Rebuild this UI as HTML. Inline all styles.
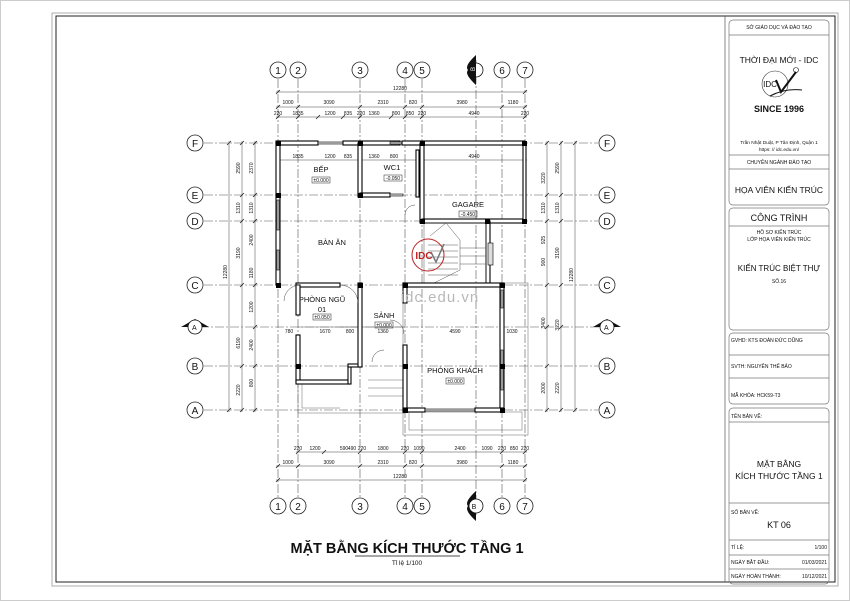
<!DOCTYPE html>
<html><head><meta charset="utf-8"><style>
html,body{margin:0;padding:0;background:#fff}
svg{display:block}
text{font-family:"Liberation Sans",Arial,sans-serif;fill:#111}
.d{font-size:5px;fill:#333}
.g{stroke:#555;stroke-width:.6;stroke-dasharray:9 2 2 2;fill:none}
.dl{stroke:#444;stroke-width:.5;fill:none}
.w{fill:#fff;stroke:#000;stroke-width:1.1}
.wb{fill:#000}
.win{fill:#ddd;stroke:#000;stroke-width:.6}
.t{stroke:#666;stroke-width:.5;fill:none}
.c{fill:#fff;stroke:#222;stroke-width:.8}
</style></head><body>
<svg width="850" height="601" viewBox="0 0 850 601" xmlns="http://www.w3.org/2000/svg">
<rect x="0.5" y="0.5" width="849" height="600" fill="#fff" stroke="#ccc"/>
<rect x="52" y="13" width="786" height="573" fill="none" stroke="#999" stroke-width=".8"/>
<rect x="56" y="16" width="779" height="566" fill="none" stroke="#222" stroke-width="1"/>
<line x1="725" y1="16" x2="725" y2="582" stroke="#555" stroke-width=".7"/>

<g fill="none" stroke="#777" stroke-width=".7">
<rect x="729" y="20" width="100" height="185" rx="4"/>
<rect x="729" y="208" width="100" height="122" rx="4"/>
<rect x="729" y="333" width="100" height="71" rx="4"/>
<rect x="729" y="408" width="100" height="176" rx="4"/>
<line x1="729" y1="35" x2="829" y2="35"/>
<line x1="729" y1="155" x2="829" y2="155"/>
<line x1="729" y1="169" x2="829" y2="169"/>
<line x1="729" y1="226" x2="829" y2="226"/>
<line x1="729" y1="355" x2="829" y2="355"/>
<line x1="729" y1="378" x2="829" y2="378"/>
<line x1="729" y1="422" x2="829" y2="422"/>
<line x1="729" y1="503" x2="829" y2="503"/>
<line x1="729" y1="540" x2="829" y2="540"/>
<line x1="729" y1="555" x2="829" y2="555"/>
<line x1="729" y1="569" x2="829" y2="569"/>
</g>
<g text-anchor="middle">
<text x="779" y="29" font-size="5">SỞ GIÁO DỤC VÀ ĐÀO TẠO</text>
<text x="779" y="63" font-size="8.5">THỜI ĐẠI MỚI - IDC</text>
<circle cx="775" cy="84" r="13" fill="none" stroke="#333" stroke-width=".6"/>
<text x="770" y="87" font-size="8" font-family="Liberation Serif">IDC</text>
<path d="M776 80 L781 92 L796 72" fill="none" stroke="#111" stroke-width="2"/>
<path d="M770 96 Q785 88 802 90" fill="none" stroke="#111" stroke-width="1"/>
<circle cx="796" cy="70" r="2.5" fill="none" stroke="#111" stroke-width=".6"/>
<text x="779" y="112" font-size="9" font-weight="bold">SINCE 1996</text>
<text x="779" y="144" font-size="4.8">Trần Nhật Duật, P Tân Định, Quận 1</text>
<text x="779" y="151" font-size="4.8">https: // idc.edu.vn/</text>
<text x="779" y="164" font-size="5">CHUYÊN NGÀNH ĐÀO TẠO</text>
<text x="779" y="193" font-size="8.5">HỌA VIÊN KIẾN TRÚC</text>
<text x="779" y="221" font-size="9">CÔNG TRÌNH</text>
<text x="779" y="234" font-size="5">HỒ SƠ KIẾN TRÚC</text>
<text x="779" y="241" font-size="5">LỚP HỌA VIÊN KIẾN TRÚC</text>
<text x="779" y="271" font-size="8">KIẾN TRÚC BIỆT THỰ</text>
<text x="779" y="283" font-size="5">SỐ.16</text>
<text x="779" y="467" font-size="8.5">MẶT BẰNG</text>
<text x="779" y="479" font-size="8.5">KÍCH THƯỚC TẦNG 1</text>
<text x="779" y="528" font-size="9">KT 06</text>
</g>
<g font-size="5">
<text x="731" y="342">GVHD:  KTS ĐOÀN ĐỨC DŨNG</text>
<text x="731" y="368">SVTH:  NGUYỄN THẾ BẢO</text>
<text x="731" y="397">MÃ KHÓA:  HCK59-T3</text>
<text x="731" y="418">TÊN BẢN VẼ:</text>
<text x="731" y="514">SỐ BẢN VẼ:</text>
<text x="731" y="549">TỈ LỆ:</text>
<text x="731" y="564">NGÀY BẮT ĐẦU:</text>
<text x="731" y="578">NGÀY HOÀN THÀNH:</text>
<text x="827" y="549" text-anchor="end">1/100</text>
<text x="827" y="564" text-anchor="end">01/03/2021</text>
<text x="827" y="578" text-anchor="end">10/12/2021</text>
</g>

<g class="g">
<line x1="278" y1="79" x2="278" y2="497"/><line x1="298" y1="79" x2="298" y2="497"/>
<line x1="360" y1="79" x2="360" y2="497"/><line x1="405" y1="79" x2="405" y2="497"/>
<line x1="422" y1="79" x2="422" y2="497"/><line x1="502" y1="79" x2="502" y2="497"/>
<line x1="525" y1="79" x2="525" y2="497"/><line x1="476" y1="60" x2="476" y2="515"/>
<line x1="204" y1="143" x2="598" y2="143"/><line x1="204" y1="195" x2="598" y2="195"/>
<line x1="204" y1="221" x2="598" y2="221"/><line x1="204" y1="285" x2="598" y2="285"/>
<line x1="204" y1="366" x2="598" y2="366"/><line x1="204" y1="410" x2="598" y2="410"/>
<line x1="200" y1="327" x2="600" y2="327"/>
</g>

<g>
<circle class="c" cx="278" cy="70" r="8"/><circle class="c" cx="298" cy="70" r="8"/><circle class="c" cx="360" cy="70" r="8"/><circle class="c" cx="405" cy="70" r="8"/><circle class="c" cx="422" cy="70" r="8"/><circle class="c" cx="502" cy="70" r="8"/><circle class="c" cx="525" cy="70" r="8"/>
<circle class="c" cx="278" cy="506" r="8"/><circle class="c" cx="298" cy="506" r="8"/><circle class="c" cx="360" cy="506" r="8"/><circle class="c" cx="405" cy="506" r="8"/><circle class="c" cx="422" cy="506" r="8"/><circle class="c" cx="502" cy="506" r="8"/><circle class="c" cx="525" cy="506" r="8"/>
<circle class="c" cx="195" cy="143" r="8"/><circle class="c" cx="195" cy="195" r="8"/><circle class="c" cx="195" cy="221" r="8"/><circle class="c" cx="195" cy="285" r="8"/><circle class="c" cx="195" cy="366" r="8"/><circle class="c" cx="195" cy="410" r="8"/>
<circle class="c" cx="607" cy="143" r="8"/><circle class="c" cx="607" cy="195" r="8"/><circle class="c" cx="607" cy="221" r="8"/><circle class="c" cx="607" cy="285" r="8"/><circle class="c" cx="607" cy="366" r="8"/><circle class="c" cx="607" cy="410" r="8"/>
</g>
<g font-size="10" text-anchor="middle">
<text x="278" y="74">1</text><text x="298" y="74">2</text><text x="360" y="74">3</text><text x="405" y="74">4</text><text x="422" y="74">5</text><text x="502" y="74">6</text><text x="525" y="74">7</text>
<text x="278" y="510">1</text><text x="298" y="510">2</text><text x="360" y="510">3</text><text x="405" y="510">4</text><text x="422" y="510">5</text><text x="502" y="510">6</text><text x="525" y="510">7</text>
<text x="195" y="147">F</text><text x="195" y="199">E</text><text x="195" y="225">D</text><text x="195" y="289">C</text><text x="195" y="370">B</text><text x="195" y="414">A</text>
<text x="607" y="147">F</text><text x="607" y="199">E</text><text x="607" y="225">D</text><text x="607" y="289">C</text><text x="607" y="370">B</text><text x="607" y="414">A</text>
</g>
<g>
<path d="M476 55 Q464 66 468 70 Q464 74 476 85 Z" fill="#111"/><circle cx="476" cy="70" r="7" fill="#fff" stroke="#111" stroke-width=".8"/><path d="M476 63 A7 7 0 0 0 476 77 Z" fill="#111"/><text x="474" y="72" font-size="6" style="fill:#fff" text-anchor="middle" transform="rotate(-90 473 70)">B</text>
<path d="M476 491 Q464 502 468 506 Q464 510 476 521 Z" fill="#111"/><circle cx="476" cy="506" r="7" fill="#fff" stroke="#111" stroke-width=".8"/><text x="474" y="509" font-size="7" text-anchor="middle">B</text>
<path d="M181 327 L195 319 L209 327 Z" fill="#111"/><circle cx="195" cy="327" r="7" fill="#fff" stroke="#111" stroke-width=".8"/><text x="192" y="330" font-size="7">A</text>
<path d="M593 327 L607 319 L621 327 Z" fill="#111"/><circle cx="607" cy="327" r="7" fill="#fff" stroke="#111" stroke-width=".8"/><text x="604" y="330" font-size="7">A</text>
</g>

<g class="dl">
<line x1="276" y1="92" x2="527" y2="92"/><line x1="276" y1="107" x2="527" y2="107"/><line x1="276" y1="117" x2="527" y2="117"/>
<line x1="276" y1="160" x2="527" y2="160"/>
<line x1="296" y1="452" x2="527" y2="452"/><line x1="276" y1="466" x2="527" y2="466"/><line x1="276" y1="480" x2="527" y2="480"/>
<line x1="229" y1="141" x2="229" y2="412"/><line x1="242" y1="141" x2="242" y2="412"/><line x1="255" y1="141" x2="255" y2="412"/>
<line x1="547" y1="141" x2="547" y2="412"/><line x1="561" y1="141" x2="561" y2="412"/><line x1="575" y1="141" x2="575" y2="412"/>
</g>
<g stroke="#222" stroke-width=".8">
<path d="M276 94l4-4M523 94l4-4M276 109l4-4M296 109l4-4M358 109l4-4M403 109l4-4M420 109l4-4M500 109l4-4M523 109l4-4M276 119l4-4M296 119l4-4M316 119l4-4M341 119l4-4M358 119l4-4M389 119l4-4M403 119l4-4M420 119l4-4M523 119l4-4"/>
<path d="M296 454l4-4M322 454l4-4M358 454l4-4M403 454l4-4M420 454l4-4M500 454l4-4M523 454l4-4M276 468l4-4M296 468l4-4M358 468l4-4M403 468l4-4M420 468l4-4M500 468l4-4M523 468l4-4M276 482l4-4M523 482l4-4"/>
<path d="M227 145l4-4M227 412l4-4M240 145l4-4M240 197l4-4M240 223l4-4M240 287l4-4M240 368l4-4M240 412l4-4M253 145l4-4M253 197l4-4M253 223l4-4M253 287l4-4M253 329l4-4M253 368l4-4M253 412l4-4"/>
<path d="M545 145l4-4M545 197l4-4M545 223l4-4M545 287l4-4M545 329l4-4M545 368l4-4M545 412l4-4M559 145l4-4M559 197l4-4M559 223l4-4M559 287l4-4M559 329l4-4M559 412l4-4M573 145l4-4M573 412l4-4"/>
</g>
<g class="d" text-anchor="middle">
<text x="400" y="90">12280</text>
<text x="288" y="104">1000</text><text x="329" y="104">3090</text><text x="383" y="104">2310</text><text x="413" y="104">820</text><text x="462" y="104">3980</text><text x="513" y="104">1180</text>
<text x="278" y="115">220</text><text x="298" y="115">1835</text><text x="330" y="115">1200</text><text x="348" y="115">835</text><text x="361" y="115">220</text><text x="374" y="115">1360</text><text x="396" y="115">800</text><text x="410" y="115">850</text><text x="422" y="115">220</text><text x="474" y="115">4940</text><text x="525" y="115">220</text>
<text x="298" y="158">1835</text><text x="330" y="158">1200</text><text x="348" y="158">835</text><text x="374" y="158">1360</text><text x="394" y="158">800</text><text x="474" y="158">4940</text>
<text x="298" y="450">220</text><text x="315" y="450">1200</text><text x="344" y="450">590</text><text x="352" y="450">490</text><text x="362" y="450">220</text><text x="383" y="450">1800</text><text x="405" y="450">220</text><text x="419" y="450">1090</text><text x="460" y="450">2400</text><text x="487" y="450">1090</text><text x="502" y="450">220</text><text x="514" y="450">850</text><text x="525" y="450">220</text>
<text x="288" y="464">1000</text><text x="329" y="464">3090</text><text x="383" y="464">2310</text><text x="413" y="464">820</text><text x="462" y="464">3980</text><text x="513" y="464">1180</text>
<text x="400" y="478">12280</text>
<text transform="translate(227 272) rotate(-90)">12280</text>
<text transform="translate(240 168) rotate(-90)">2590</text><text transform="translate(240 208) rotate(-90)">1310</text><text transform="translate(240 253) rotate(-90)">3190</text><text transform="translate(240 343) rotate(-90)">6190</text><text transform="translate(240 390) rotate(-90)">2220</text>
<text transform="translate(253 168) rotate(-90)">2370</text><text transform="translate(253 208) rotate(-90)">1310</text><text transform="translate(253 240) rotate(-90)">2400</text><text transform="translate(253 273) rotate(-90)">1180</text><text transform="translate(253 307) rotate(-90)">1200</text><text transform="translate(253 345) rotate(-90)">2400</text><text transform="translate(253 383) rotate(-90)">800</text>
<text transform="translate(545 178) rotate(-90)">3220</text><text transform="translate(545 208) rotate(-90)">1310</text><text transform="translate(545 240) rotate(-90)">925</text><text transform="translate(545 262) rotate(-90)">900</text><text transform="translate(545 323) rotate(-90)">3400</text><text transform="translate(545 388) rotate(-90)">2000</text>
<text transform="translate(559 168) rotate(-90)">2590</text><text transform="translate(559 208) rotate(-90)">1310</text><text transform="translate(559 253) rotate(-90)">3190</text><text transform="translate(559 325) rotate(-90)">3220</text><text transform="translate(559 388) rotate(-90)">2220</text>
<text transform="translate(573 275) rotate(-90)">12280</text>
<text x="289" y="333">780</text><text x="325" y="333">1670</text><text x="350" y="333">800</text><text x="383" y="333">1360</text><text x="455" y="333">4590</text><text x="512" y="333">1030</text>
</g>

<g class="t">
<rect x="403" y="283" width="125" height="152"/>
<rect x="409" y="412" width="113" height="18"/>
<path d="M298 380 V413 H405"/><path d="M302 382 V408 H340"/>
<line x1="340" y1="327" x2="405" y2="327"/>
<line x1="368" y1="380" x2="405" y2="380"/><line x1="368" y1="388" x2="405" y2="388"/><line x1="368" y1="396" x2="405" y2="396"/>
<line x1="298" y1="327" x2="360" y2="327"/>
</g>

<g>
<rect class="w" x="278" y="141" width="40" height="4"/><rect class="win" x="318" y="142" width="25" height="2"/><rect class="w" x="343" y="141" width="57" height="4"/><rect class="win" x="390" y="142" width="12" height="2"/><rect class="w" x="402" y="141" width="123" height="4"/>
<rect class="w" x="276" y="141" width="4" height="144"/><rect class="win" x="277" y="200" width="2" height="30"/><rect class="win" x="277" y="250" width="2" height="20"/>
<rect class="w" x="358" y="143" width="4" height="54"/>
<rect class="w" x="360" y="193" width="30" height="4"/><rect class="win" x="390" y="194" width="13" height="2"/>
<rect class="w" x="416" y="150" width="3" height="47"/>
<rect class="w" x="420" y="143" width="4" height="80"/>
<rect class="w" x="422" y="219" width="103" height="4"/>
<rect class="w" x="523" y="143" width="3" height="80"/>
<rect class="w" x="486" y="221" width="4" height="64"/>
<rect class="win" x="488" y="243" width="5" height="22"/>
<g stroke="#555" stroke-width=".5" fill="none">
<rect x="424" y="223" width="62" height="62"/>
<path d="M430 236 L446 223 M446 223 L460 240 M460 240 V270 M430 285 L460 270"/>
<path d="M428 245h30M428 251h30M428 257h30M428 263h30M428 269h30M428 275h30M460 248h26M460 256h26M460 264h26"/>
</g>
<rect class="w" x="296" y="283" width="44" height="4"/>
<rect class="w" x="296" y="285" width="4" height="30"/><rect class="w" x="296" y="335" width="4" height="47"/>
<rect class="w" x="296" y="380" width="54" height="4"/><rect class="w" x="348" y="365" width="3" height="19"/><rect class="w" x="348" y="364" width="13" height="3"/>
<rect class="w" x="358" y="283" width="4" height="84"/>
<rect class="w" x="403" y="283" width="99" height="4"/><rect class="w" x="403" y="283" width="4" height="20"/><rect class="w" x="403" y="345" width="4" height="67"/>
<rect class="w" x="500" y="283" width="4" height="129"/><rect class="win" x="501" y="290" width="2" height="18"/><rect class="win" x="501" y="350" width="2" height="40"/>
<rect class="w" x="403" y="408" width="22" height="4"/><rect class="win" x="425" y="409" width="50" height="2"/><rect class="w" x="475" y="408" width="29" height="4"/>
<g class="wb">
<rect x="276" y="141" width="5" height="5"/><rect x="358" y="141" width="5" height="5"/><rect x="420" y="141" width="5" height="5"/><rect x="522" y="141" width="5" height="5"/>
<rect x="276" y="193" width="5" height="5"/><rect x="358" y="193" width="5" height="5"/>
<rect x="420" y="219" width="5" height="5"/><rect x="485" y="219" width="5" height="5"/><rect x="522" y="219" width="5" height="5"/>
<rect x="276" y="283" width="5" height="5"/><rect x="358" y="283" width="5" height="5"/><rect x="403" y="283" width="5" height="5"/><rect x="500" y="283" width="5" height="5"/>
<rect x="296" y="364" width="5" height="5"/><rect x="403" y="364" width="5" height="5"/><rect x="500" y="364" width="5" height="5"/>
<rect x="403" y="408" width="5" height="5"/><rect x="500" y="408" width="5" height="5"/>
</g>
<g stroke="#444" stroke-width=".5" fill="none">
<path d="M300 285 A16 16 0 0 0 284 301"/><path d="M340 285 A18 18 0 0 1 358 303"/><path d="M390 320 A14 14 0 0 1 404 334"/><path d="M405 215 A10 10 0 0 1 415 205"/><path d="M372 362 A12 12 0 0 1 384 350"/>
</g>
</g>

<g text-anchor="middle" font-size="7.5">
<text x="321" y="172">BẾP</text>
<text x="392" y="170">WC1</text>
<text x="468" y="207">GAGARE</text>
<text x="332" y="245">BÀN ĂN</text>
<text x="322" y="302">PHÒNG NGŨ</text>
<text x="322" y="312">01</text>
<text x="384" y="318">SẢNH</text>
<text x="455" y="373">PHÒNG KHÁCH</text>
</g>
<g font-size="5" text-anchor="middle">
<rect x="312" y="177" width="18" height="6" fill="none" stroke="#222" stroke-width=".5"/><text x="321" y="182">±0.000</text>
<rect x="384" y="175" width="18" height="6" fill="none" stroke="#222" stroke-width=".5"/><text x="393" y="180">-0.050</text>
<rect x="459" y="211" width="18" height="6" fill="none" stroke="#222" stroke-width=".5"/><text x="468" y="216">-0.450</text>
<rect x="313" y="314" width="18" height="6" fill="none" stroke="#222" stroke-width=".5"/><text x="322" y="319">±0.050</text>
<rect x="375" y="322" width="18" height="6" fill="none" stroke="#222" stroke-width=".5"/><text x="384" y="327">±0.000</text>
<rect x="446" y="378" width="18" height="6" fill="none" stroke="#222" stroke-width=".5"/><text x="455" y="383">±0.000</text>
</g>
<text x="440" y="302" font-size="15" style="fill:#b8b8b8" text-anchor="middle" letter-spacing="1">idc.edu.vn</text>
<circle cx="428" cy="255" r="16" fill="none" stroke="#b22" stroke-width="1"/>
<text x="424" y="259" font-size="10" font-weight="bold" font-family="Liberation Serif" style="fill:#b22" text-anchor="middle">IDC</text>
<path d="M431 252 L436 262 L444 244" fill="none" stroke="#777" stroke-width="1.5"/>

<text x="407" y="553" font-size="14.5" font-weight="bold" text-anchor="middle">MẶT BẰNG KÍCH THƯỚC TẦNG 1</text>
<line x1="355" y1="556" x2="460" y2="556" stroke="#111" stroke-width=".8"/>
<text x="407" y="565" font-size="6.5" text-anchor="middle">Tỉ lệ 1/100</text>
</svg>
</body></html>
